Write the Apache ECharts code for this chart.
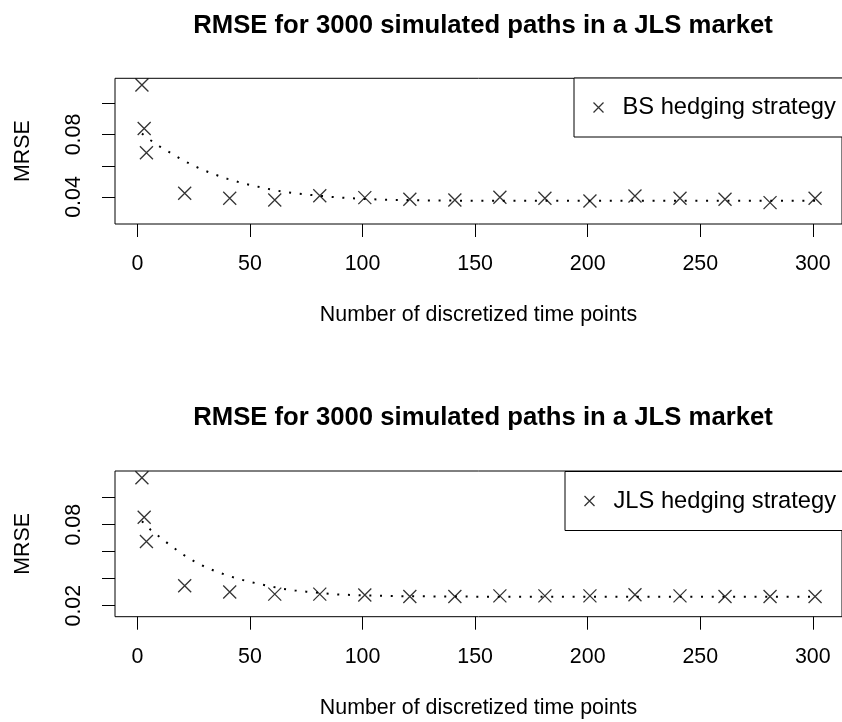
<!DOCTYPE html>
<html>
<head>
<meta charset="utf-8">
<title>RMSE for 3000 simulated paths in a JLS market</title>
<script src="https://cdn.jsdelivr.net/npm/echarts@6/dist/echarts.min.js"></script>
<style>
  html, body { margin: 0; padding: 0; background: #fff; }
  #chart { width: 842px; height: 722px; }
</style>
</head>
<body>
<div id="chart"></div>
<script>
// Number of discretized time points used in each hedging run
const timePoints = [2, 3, 4, 21, 41, 61, 81, 101, 121, 141, 161, 181, 201, 221, 241, 261, 281, 301];

// Root mean squared hedging error, BS strategy
const bsError = [0.1117, 0.0838, 0.0683, 0.0424, 0.0392, 0.0381, 0.0408, 0.0396, 0.0385,
                 0.0381, 0.0398, 0.0392, 0.0374, 0.0406, 0.0392, 0.0385, 0.0364, 0.0392];

// Root mean squared hedging error, JLS strategy
const jlsError = [0.1148, 0.0855, 0.0676, 0.0348, 0.0301, 0.0286, 0.0286, 0.0279, 0.0268,
                  0.0268, 0.0273, 0.0273, 0.0273, 0.0281, 0.0273, 0.0268, 0.0268, 0.0268];

// Fitted trend curves (dotted)
const bsTrendX = [2, 6, 10, 15, 20, 25, 30, 35, 40, 45, 50, 55, 60, 65, 70, 75, 85, 90, 100, 110, 130, 150, 200, 250, 301];
const bsTrend  = [0.0806, 0.0762, 0.0722, 0.0680, 0.0637, 0.0600, 0.0568, 0.0541, 0.0516, 0.0495, 0.0477, 0.0461,
                  0.0446, 0.0433, 0.0424, 0.0416, 0.0402, 0.0396, 0.0388, 0.0382, 0.0378, 0.0376, 0.0376, 0.0376, 0.0376];

const jlsTrendX = [2, 6, 10, 14, 18, 22, 26, 30, 35, 40, 45, 50, 55, 60, 65, 70, 75, 88, 100, 120, 150, 200, 250, 301];
const jlsTrend  = [0.0826, 0.0760, 0.0708, 0.0655, 0.0606, 0.0560, 0.0522, 0.0488, 0.0453, 0.0424, 0.0398, 0.0377,
                   0.0358, 0.0340, 0.0324, 0.0313, 0.0304, 0.0284, 0.0276, 0.0270, 0.0267, 0.0266, 0.0266, 0.0266];

// Axis ticks and labels
const xTicks = [0, 50, 100, 150, 200, 250, 300];
const yTicksTop = [0.04, 0.06, 0.08, 0.10];
const yLabelsTop = [0.04, 0.08];
const yTicksBottom = [0.02, 0.04, 0.06, 0.08, 0.10];
const yLabelsBottom = [0.02, 0.08];

const titleText = 'RMSE for 3000 simulated paths in a JLS market';
const xName = 'Number of discretized time points';
const yName = 'MRSE';
const legendBS = 'BS hedging strategy';
const legendJLS = 'JLS hedging strategy';

const FONT = '"Liberation Sans", Arial, Helvetica, sans-serif';
const crossPath = 'path://M0,0L10,10M10,0L0,10';

const zip = (xs, ys) => xs.map((x, i) => [x, ys[i]]);

function xAxisCfg(gridIndex) {
  return {
    gridIndex: gridIndex,
    type: 'value',
    min: -9.96,
    max: 312.96,
    name: xName,
    nameLocation: 'middle',
    nameGap: 81,
    nameTextStyle: { fontFamily: FONT, fontSize: 21.4, color: '#000' },
    axisLine: { show: false, onZero: false },
    axisTick: { show: true, length: 13, customValues: xTicks, lineStyle: { color: '#000', width: 1 } },
    axisLabel: { customValues: xTicks, margin: 30, fontFamily: FONT, fontSize: 21.4, color: '#000' },
    splitLine: { show: false }
  };
}

function yAxisCfg(gridIndex, min, max, ticks, labels) {
  return {
    gridIndex: gridIndex,
    type: 'value',
    min: min,
    max: max,
    name: yName,
    nameLocation: 'middle',
    nameGap: 81,
    nameTextStyle: { fontFamily: FONT, fontSize: 21.4, color: '#000' },
    axisLine: { show: false, onZero: false },
    axisTick: { show: true, length: 13, customValues: ticks, lineStyle: { color: '#000', width: 1 } },
    axisLabel: {
      customValues: labels, rotate: 90, margin: 30,
      fontFamily: FONT, fontSize: 21.4, color: '#000',
      formatter: v => v.toFixed(2)
    },
    splitLine: { show: false }
  };
}

function legendCfg(name, left, top, pad) {
  return {
    data: [name],
    left: left,
    top: top,
    orient: 'horizontal',
    padding: pad,
    itemWidth: 10,
    itemHeight: 10,
    icon: crossPath,
    itemStyle: { color: 'none', borderColor: '#000', borderWidth: 1.3 },
    borderColor: '#000',
    borderWidth: 1,
    backgroundColor: '#fff',
    selectedMode: false,
    textStyle: { fontFamily: FONT, fontSize: 23.7, color: '#000', padding: [0, 0, 0, 14] }
  };
}

function scatterCfg(name, idx, ys) {
  return {
    name: name,
    type: 'scatter',
    xAxisIndex: idx,
    yAxisIndex: idx,
    data: zip(timePoints, ys),
    symbol: crossPath,
    symbolKeepAspect: true,
    symbolSize: 13,
    itemStyle: { color: 'none', borderColor: '#000', borderWidth: 1.3 },
    silent: true,
    z: 3
  };
}

function trendCfg(name, idx, xs, ys) {
  return {
    name: name,
    type: 'line',
    xAxisIndex: idx,
    yAxisIndex: idx,
    data: zip(xs, ys),
    symbol: 'none',
    lineStyle: { color: '#000', width: 2, type: [2, 8.7] },
    silent: true,
    z: 2
  };
}

const chart = echarts.init(document.getElementById('chart'), null, { renderer: 'canvas' });

chart.setOption({
  animation: false,
  backgroundColor: '#fff',
  title: [
    { text: titleText, left: 478, top: 7.6, textAlign: 'center',
      textStyle: { fontFamily: FONT, fontWeight: 'bold', fontSize: 25.7, color: '#000' } },
    { text: titleText, left: 478, top: 400.3, textAlign: 'center',
      textStyle: { fontFamily: FONT, fontWeight: 'bold', fontSize: 25.7, color: '#000' } }
  ],
  grid: [
    { left: 115, right: -10, top: 78.3, height: 145.7, show: true, borderColor: '#000', borderWidth: 1, backgroundColor: 'transparent' },
    { left: 115, right: -10, top: 471, height: 145.7, show: true, borderColor: '#000', borderWidth: 1, backgroundColor: 'transparent' }
  ],
  xAxis: [xAxisCfg(0), xAxisCfg(1)],
  yAxis: [
    yAxisCfg(0, 0.0227, 0.1160, yTicksTop, yLabelsTop),
    yAxisCfg(1, 0.01185, 0.1198, yTicksBottom, yLabelsBottom)
  ],
  legend: [
    legendCfg(legendBS, 574, 78, [17.5, 19, 17.5, 17]),
    legendCfg(legendJLS, 565, 471.5, [17.5, 19, 17.5, 17])
  ],
  series: [
    trendCfg('BS trend', 0, bsTrendX, bsTrend),
    scatterCfg(legendBS, 0, bsError),
    trendCfg('JLS trend', 1, jlsTrendX, jlsTrend),
    scatterCfg(legendJLS, 1, jlsError)
  ]
});
</script>
</body>
</html>
